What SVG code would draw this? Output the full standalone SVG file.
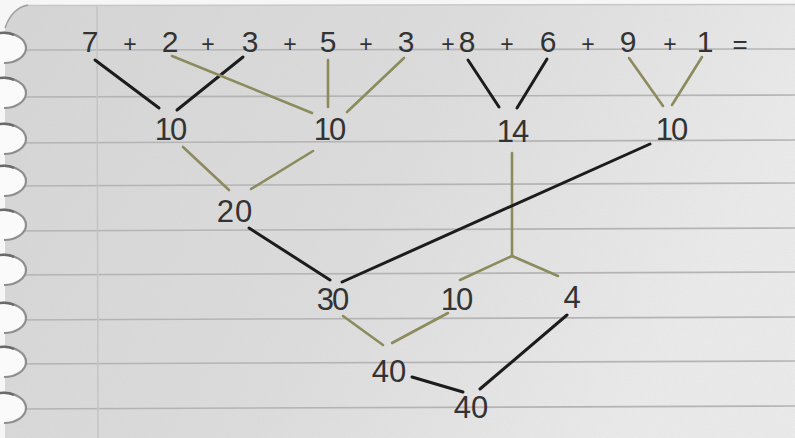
<svg xmlns="http://www.w3.org/2000/svg" width="795" height="438" viewBox="0 0 795 438">
<defs>
<linearGradient id="paper" x1="0" y1="0" x2="1" y2="0.3">
<stop offset="0" stop-color="#d6d6d6"/>
<stop offset="0.55" stop-color="#dddddd"/>
<stop offset="1" stop-color="#ececec"/>
</linearGradient>
<filter id="grain" x="0" y="0" width="100%" height="100%">
<feTurbulence type="fractalNoise" baseFrequency="0.9" numOctaves="2" seed="3" result="n"/>
<feColorMatrix type="matrix" values="0 0 0 0 0.5  0 0 0 0 0.5  0 0 0 0 0.5  0 0 0 0.14 0" in="n"/>
<feComposite operator="in" in2="SourceGraphic"/>
</filter>
<g id="hole">
<ellipse cx="4" cy="0" rx="22" ry="15" fill="#fafafa"/>
<path d="M 2 -15 A 22 15 0 0 1 26 0 A 22 15 0 0 1 4 15" fill="none" stroke="#8e8e8e" stroke-width="2.2"/>
<path d="M -4 -14 Q 6 -17 14 -13" fill="none" stroke="#6a6a6a" stroke-width="2.5"/>
</g>
</defs>
<style>
.rule{stroke:#b4b4b4;stroke-width:1.6;fill:none}
.margin{stroke:#c4c4c4;stroke-width:1.5}
.num{font-family:"Liberation Sans","DejaVu Sans",sans-serif;font-size:30px;fill:#333;text-anchor:middle}
.op{font-family:"Liberation Sans","DejaVu Sans",sans-serif;font-size:23px;fill:#333;text-anchor:middle}
.sum{font-family:"Liberation Sans","DejaVu Sans",sans-serif;font-size:31px;fill:#333;text-anchor:middle;letter-spacing:-2px}
.blk{stroke:#1c1c1c;stroke-width:3;stroke-linecap:round;fill:none}
.olv{stroke:#8c8b5d;stroke-width:2.6;stroke-linecap:round;fill:none}
</style>
<rect x="0" y="0" width="795" height="438" fill="#f6f6f6"/>
<g id="paper-sheet">
<rect x="5" y="5" width="790" height="433" fill="url(#paper)"/>
<rect x="5" y="5" width="790" height="433" fill="#888" filter="url(#grain)"/>
<line x1="24" y1="5.5" x2="795" y2="4.5" stroke="#c8c8c8" stroke-width="1.5"/>
<path d="M 0 0 L 28 0 L 28 5 Q 12 8 5 28 L 0 28 Z" fill="#f6f6f6"/>
<path d="M 28 5 Q 12 8 5 28" fill="none" stroke="#a0a0a0" stroke-width="1.5"/>
<line class="rule" x1="5" y1="50" x2="795" y2="49"/>
<line class="rule" x1="5" y1="97" x2="795" y2="95"/>
<line class="rule" x1="5" y1="143" x2="795" y2="140"/>
<line class="rule" x1="5" y1="186" x2="795" y2="183"/>
<line class="rule" x1="5" y1="231" x2="795" y2="228"/>
<line class="rule" x1="5" y1="275" x2="795" y2="272"/>
<line class="rule" x1="5" y1="320" x2="795" y2="317"/>
<line class="rule" x1="5" y1="364" x2="795" y2="361"/>
<line class="rule" x1="5" y1="409" x2="795" y2="406"/>
<line class="margin" x1="97" y1="5" x2="98" y2="438"/>
<use href="#hole" x="0" y="48"/>
<use href="#hole" x="0" y="93"/>
<use href="#hole" x="0" y="139"/>
<use href="#hole" x="0" y="181"/>
<use href="#hole" x="0" y="225"/>
<use href="#hole" x="0" y="270"/>
<use href="#hole" x="0" y="318"/>
<use href="#hole" x="0" y="362"/>
<use href="#hole" x="0" y="408"/>
</g>
<g id="connectors">
<line class="blk" x1="95" y1="60" x2="159" y2="108"/>
<line class="blk" x1="243" y1="57" x2="177" y2="110"/>
<line class="olv" x1="172" y1="56" x2="312" y2="113"/>
<line class="olv" x1="328" y1="60" x2="328" y2="107"/>
<line class="olv" x1="404" y1="58" x2="347" y2="112"/>
<line class="blk" x1="468" y1="60" x2="499" y2="107"/>
<line class="blk" x1="547" y1="59" x2="517" y2="108"/>
<line class="olv" x1="629" y1="58" x2="663" y2="106"/>
<line class="olv" x1="702" y1="57" x2="672" y2="105"/>
<line class="olv" x1="183" y1="147" x2="229" y2="190"/>
<line class="olv" x1="313" y1="151" x2="251" y2="189"/>
<line class="blk" x1="249" y1="228" x2="330" y2="280"/>
<line class="olv" x1="512" y1="153" x2="512" y2="256"/>
<line class="olv" x1="512" y1="256" x2="460" y2="280"/>
<line class="olv" x1="512" y1="256" x2="558" y2="276"/>
<line class="blk" x1="342" y1="282" x2="650" y2="144"/>
<line class="olv" x1="343" y1="316" x2="383" y2="345"/>
<line class="olv" x1="448" y1="313" x2="392" y2="343"/>
<line class="blk" x1="412" y1="377" x2="463" y2="392"/>
<line class="blk" x1="567" y1="315" x2="480" y2="389"/>
</g>
<g id="t7"><text class="num" x="90" y="52">7</text></g>
<g id="p1"><text class="op" x="130" y="52">+</text></g>
<g id="t2"><text class="num" x="170" y="52">2</text></g>
<g id="p2"><text class="op" x="208" y="52">+</text></g>
<g id="t3a"><text class="num" x="250" y="52">3</text></g>
<g id="p3"><text class="op" x="290" y="52">+</text></g>
<g id="t5"><text class="num" x="328" y="52">5</text></g>
<g id="p4"><text class="op" x="366" y="52">+</text></g>
<g id="t3b"><text class="num" x="406" y="52">3</text></g>
<g id="p5"><text class="op" x="448" y="52">+</text></g>
<g id="t8"><text class="num" x="467" y="52">8</text></g>
<g id="p6"><text class="op" x="507" y="52">+</text></g>
<g id="t6"><text class="num" x="548" y="52">6</text></g>
<g id="p7"><text class="op" x="588" y="52">+</text></g>
<g id="t9"><text class="num" x="628" y="52">9</text></g>
<g id="p8"><text class="op" x="670" y="52">+</text></g>
<g id="t1"><text class="num" x="705" y="52">1</text></g>
<g id="eq"><text class="op" x="740" y="53" style="font-size:26px">=</text></g>
<g id="s10a"><text class="sum" x="170" y="140">10</text></g>
<g id="s10b"><text class="sum" x="329" y="140">10</text></g>
<g id="s14"><text class="sum" x="512" y="142">14</text></g>
<g id="s10c"><text class="sum" x="671" y="140">10</text></g>
<g id="s20"><text class="sum" x="235" y="222" style="letter-spacing:1px">20</text></g>
<g id="s30"><text class="sum" x="332" y="310">30</text></g>
<g id="s10d"><text class="sum" x="456" y="310">10</text></g>
<g id="s4"><text class="sum" x="571" y="308">4</text></g>
<g id="s40a"><text class="sum" x="389" y="382" style="letter-spacing:0px">40</text></g>
<g id="s40b"><text class="sum" x="471" y="418" style="letter-spacing:0px">40</text></g>
</svg>
